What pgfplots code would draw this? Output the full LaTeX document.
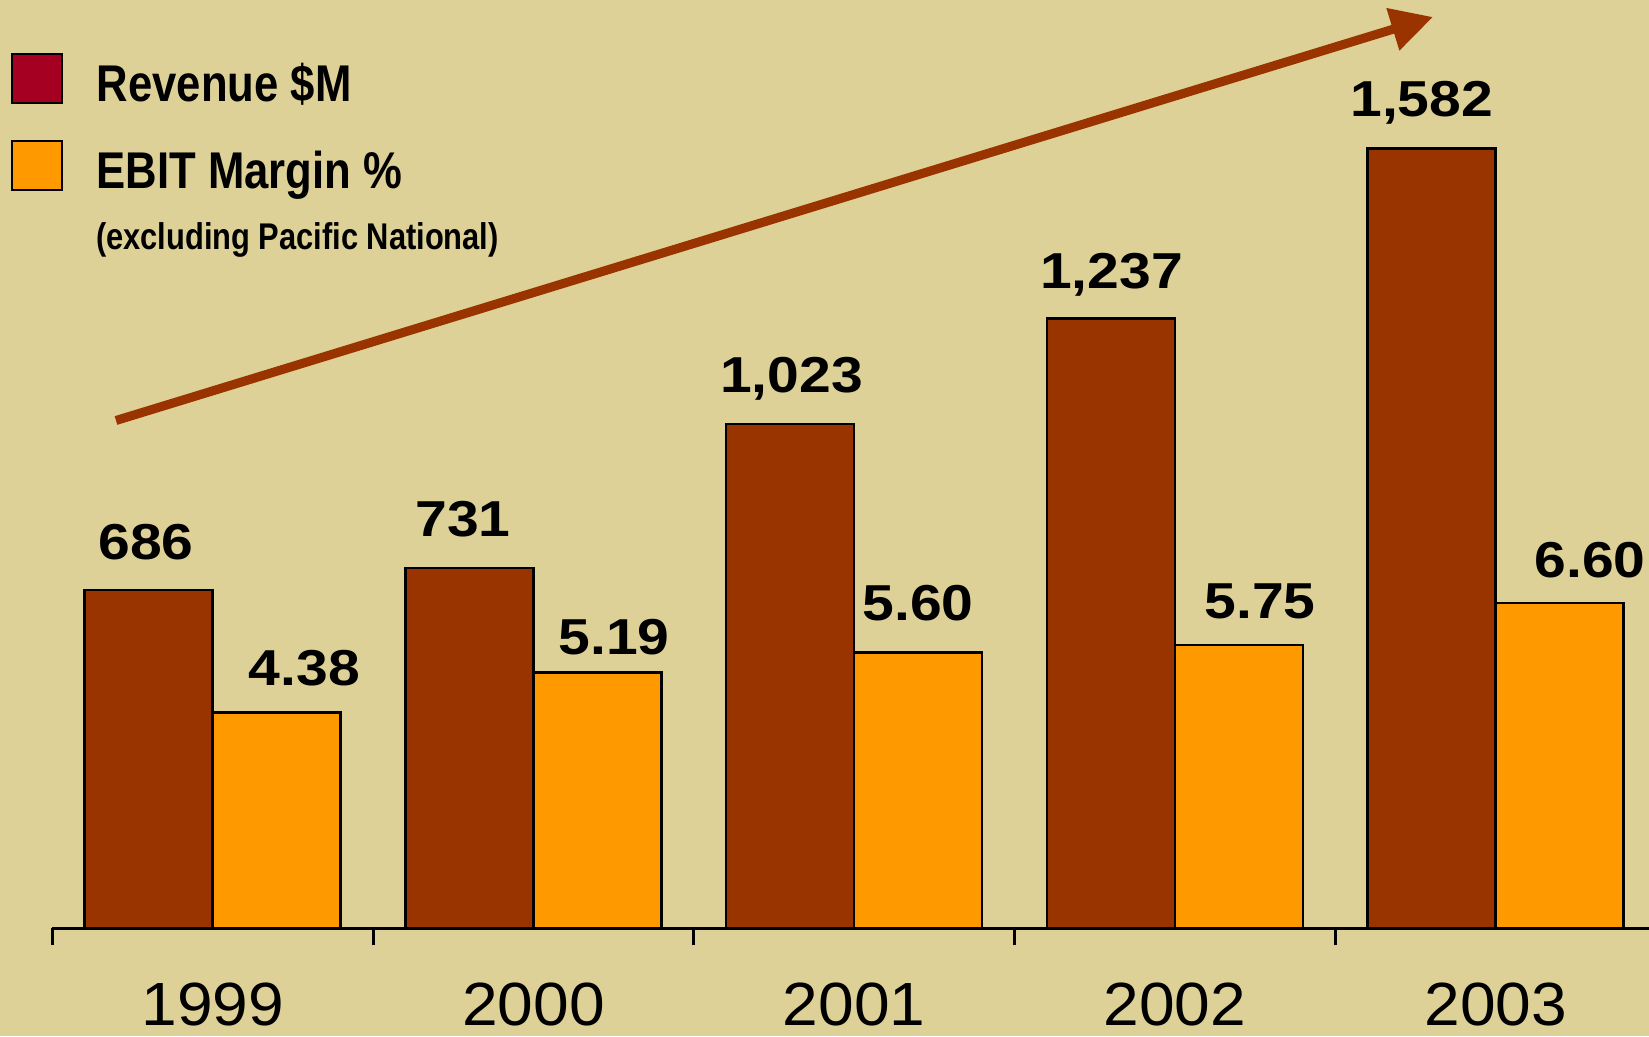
\documentclass[border=0pt]{standalone}
\usepackage{pgfplots}
\pgfplotsset{compat=1.18}
\usetikzlibrary{arrows.meta}
\usepackage{fontspec}
\setmainfont{Liberation Sans}
\newfontfamily\legfont[FakeStretch=0.845]{Liberation Sans}
\newfontfamily\subfont[FakeStretch=0.83]{Liberation Sans}
\newfontfamily\valfont[FakeStretch=1.13]{Liberation Sans}
\newfontfamily\yearfont[FakeStretch=1.05]{Liberation Sans}
\definecolor{bgc}{RGB}{221,209,152}
\definecolor{rev}{RGB}{153,51,0}
\definecolor{ebit}{RGB}{255,153,0}
\definecolor{legred}{RGB}{165,0,33}
\begin{document}
\begin{tikzpicture}
\fill[bgc] (0,0) rectangle (494.7pt,310.8pt);
\useasboundingbox (0,0) rectangle (494.7pt,310.8pt);
% legend
\draw[line width=0.75pt, fill=legred] (3.6pt,279.9pt) rectangle (18.6pt,294.6pt);
\draw[line width=0.75pt, fill=ebit] (3.6pt,253.8pt) rectangle (18.6pt,268.5pt);
\node[anchor=base west, inner sep=0pt] at (28.8pt,280.3pt) {\legfont\bfseries\fontsize{15.5pt}{18pt}\selectfont Revenue \$M};
\node[anchor=base west, inner sep=0pt] at (28.8pt,254.3pt) {\legfont\bfseries\fontsize{15.5pt}{18pt}\selectfont EBIT Margin \%};
\node[anchor=base west, inner sep=0pt] at (28.6pt,236.0pt) {\subfont\bfseries\fontsize{11.15pt}{13pt}\selectfont (excluding Pacific National)};
% trend arrow
\draw[rev, line width=2.7pt, -{Triangle[length=12.6pt,width=12.6pt]}] (34.8pt,184.65pt) -- (429.9pt,305.7pt);
% revenue axis
\begin{axis}[
  at={(15.69pt,32.31pt)}, anchor=south west,
  scale only axis, width=479.0pt, height=278.49pt,
  xmin=-0.5, xmax=4.478, ymin=0, ymax=1883.7,
  axis x line=bottom, axis y line=none,
  x axis line style={-, line width=0.9pt, black},
  xtick={0,1,2,3,4}, xticklabels={1999,2000,2001,2002,2003},
  major tick length=0pt,
  xticklabel style={anchor=base, inner sep=0pt, yshift=-29.2pt, font=\yearfont\fontsize{18.3pt}{20pt}\selectfont},
  extra x ticks={-0.5,0.5,1.5,2.5,3.5},
  extra x tick labels={},
  extra x tick style={major tick length=5.1pt, tick align=outside, tick style={line width=0.9pt, black}},
  ytick=\empty,
  clip=false,
]
\addplot[ybar, bar width=38.4pt, bar shift=-19.2pt, fill=rev, draw=black, line width=0.75pt]
  coordinates {(0,686) (1,731) (2,1023) (3,1237) (4,1582)};
\addplot[only marks, mark=none, point meta=explicit symbolic,
  nodes near coords={\pgfplotspointmeta},
  every node near coord/.append style={anchor=base, inner sep=0pt, black, font=\valfont\bfseries\fontsize{15.15pt}{18pt}\selectfont}]
  table[meta=lab] {
x y lab
-0.208 748.8 686
0.7804 794.6 731
1.8051 1086.9 1,023
2.8028 1298.7 1,237
3.7693 1646.9 1,582
0.2856 491.7 4.38
1.2518 554.6 5.19
2.1989 625.6 5.60
3.2652 629.1 5.75
4.2940 712.3 6.60
};
\end{axis}
% EBIT axis
\begin{axis}[
  at={(15.69pt,32.31pt)}, anchor=south west,
  scale only axis, width=479.0pt, height=278.49pt,
  xmin=-0.5, xmax=4.478, ymin=0, ymax=18.837,
  axis lines=none, xtick=\empty, ytick=\empty,
  clip=false,
]
\addplot[ybar, bar width=38.4pt, bar shift=19.2pt, fill=ebit, draw=black, line width=0.75pt]
  coordinates {(0,4.38) (1,5.19) (2,5.60) (3,5.75) (4,6.60)};
\end{axis}
\end{tikzpicture}
\end{document}
